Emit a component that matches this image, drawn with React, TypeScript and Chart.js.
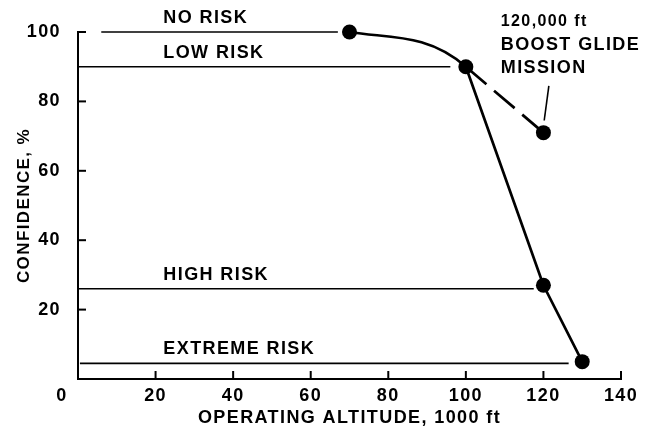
import React, { useEffect, useRef } from 'react';
import { Chart, registerables } from 'chart.js';

Chart.register(...registerables);

// ---- data ----
const altitude = [70, 100, 120, 130];
const confidence = [100, 90, 27, 5];

const boostGlideAltitude = [100, 120];
const boostGlideConfidence = [90, 71];

const leaderAltitude = [121.4, 120.2];
const leaderConfidence = [84.5, 74.5];

const riskNames = ['NO RISK', 'LOW RISK', 'HIGH RISK', 'EXTREME RISK'];
const riskLevels = [100, 90, 26, 4.5];
const riskStart = [6, 0, 0, 0.5];
const riskEnd = [67, 96, 117.5, 126.5];

const xTickValues = [0, 20, 40, 60, 80, 100, 120, 140];
const yTickValues = [20, 40, 60, 80, 100];

const annotationLines = ['120,000 ft', 'BOOST GLIDE', 'MISSION'];

const xTitle = 'OPERATING ALTITUDE, 1000 ft';
const yTitle = 'CONFIDENCE, %';

// ---- styles / layout ----
const FONT = '"Liberation Sans", Arial, Helvetica, sans-serif';
const INK = '#000';
const TICK_LEN = 8;
const RISK_LABEL_X = 22;
const RISK_LABEL_OFFSET = 14;
const ANNOT_X = 109;
const ANNOT_TOP_Y = 102.9;
const ANNOT_LINE_GAP = 23;
const CURVED_SEGMENTS = 1; // the upper (70-100) part of the curve is smooth

export default function App() {
  const ref = useRef<HTMLCanvasElement>(null);

  useEffect(() => {
    document.body.style.margin = '0';
    const canvas = ref.current;
    if (!canvas) return;

    const overlay = {
      id: 'overlay',
      beforeDraw(chart: any) {
        chart.ctx.letterSpacing = '1.4px';
      },
      afterDraw(chart: any) {
        const c = chart.ctx as CanvasRenderingContext2D;
        const xs = chart.scales.x;
        const ys = chart.scales.y;
        const x0 = xs.getPixelForValue(0);
        const y0 = ys.getPixelForValue(0);
        c.save();
        // inward tick marks
        c.strokeStyle = '#000';
        c.lineWidth = 2;
        xTickValues.forEach((v) => {
          if (v === 0) return;
          const px = xs.getPixelForValue(v);
          c.beginPath();
          c.moveTo(px, y0);
          c.lineTo(px, y0 - TICK_LEN);
          c.stroke();
        });
        yTickValues.forEach((v) => {
          const py = ys.getPixelForValue(v);
          c.beginPath();
          c.moveTo(x0, py);
          c.lineTo(x0 + TICK_LEN, py);
          c.stroke();
        });
        // risk labels
        c.fillStyle = INK;
        (c as any).letterSpacing = '1.4px';
        c.font = `bold 18px ${FONT}`;
        c.textAlign = 'left';
        c.textBaseline = 'middle';
        riskNames.forEach((name, i) => {
          c.fillText(
            name,
            xs.getPixelForValue(RISK_LABEL_X),
            ys.getPixelForValue(riskLevels[i]) - RISK_LABEL_OFFSET
          );
        });
        // annotation
        const ax = xs.getPixelForValue(ANNOT_X);
        const ay = ys.getPixelForValue(ANNOT_TOP_Y);
        annotationLines.forEach((t, i) => {
          c.font = i === 0 ? `bold 16px ${FONT}` : `bold 18px ${FONT}`;
          c.fillText(t, ax, ay + i * ANNOT_LINE_GAP);
        });
        // origin label
        c.font = `bold 18px ${FONT}`;
        c.textAlign = 'center';
        c.fillText('0', x0 - 16, y0 + 17);
        c.restore();
      },
    };

    const riskDatasets = riskNames.map((name, i) => ({
      label: name,
      data: [
        { x: riskStart[i], y: riskLevels[i] },
        { x: riskEnd[i], y: riskLevels[i] },
      ],
      borderColor: '#000',
      borderWidth: 1.6,
      pointRadius: 0,
      tension: 0,
    }));

    const curvePoints = altitude.map((x, i) => ({ x, y: confidence[i] }));

    const chart = new Chart(canvas, {
      type: 'line',
      data: {
        datasets: [
          ...riskDatasets,
          {
            label: 'Confidence (lower branch)',
            data: curvePoints.slice(CURVED_SEGMENTS),
            borderColor: '#000',
            borderWidth: 2.7,
            tension: 0,
            pointRadius: 0,
          },
          {
            label: 'Confidence',
            data: curvePoints,
            borderColor: '#000',
            borderWidth: 2.7,
            cubicInterpolationMode: 'monotone',
            segment: {
              borderColor: (ctx: any) =>
                ctx.p0DataIndex >= CURVED_SEGMENTS ? 'rgba(0,0,0,0)' : undefined,
            },
            pointRadius: 7.5,
            pointBackgroundColor: '#000',
            pointBorderColor: '#000',
            pointBorderWidth: 0,
          },
          {
            label: 'Boost glide',
            data: boostGlideAltitude.map((x, i) => ({ x, y: boostGlideConfidence[i] })),
            borderColor: '#000',
            borderWidth: 2.7,
            borderDash: [27, 10],
            tension: 0,
            pointRadius: [0, 7.5],
            pointBackgroundColor: '#000',
            pointBorderWidth: 0,
          },
          {
            label: 'Leader',
            data: leaderAltitude.map((x, i) => ({ x, y: leaderConfidence[i] })),
            borderColor: '#000',
            borderWidth: 1.6,
            pointRadius: 0,
            tension: 0,
          },
        ] as any,
      },
      options: {
        animation: false,
        responsive: true,
        maintainAspectRatio: false,
        clip: false as any,
        layout: { padding: { left: 0, top: 32, right: 25, bottom: 0 } },
        plugins: {
          legend: { display: false },
          tooltip: { enabled: false },
        },
        scales: {
          x: {
            type: 'linear',
            min: 0,
            max: 140,
            afterFit: (s: any) => {
              s.height = 51;
            },
            ticks: {
              stepSize: 20,
              autoSkip: false,
              maxRotation: 0,
              padding: -2,
              color: INK,
              font: { family: FONT, size: 18, weight: 'bold' },
              callback: (v: any) => (v === 0 ? '' : String(v)),
            },
            grid: { display: false },
            border: { display: true, color: '#000', width: 2 },
            title: {
              display: true,
              text: xTitle,
              color: INK,
              font: { family: FONT, size: 18, weight: 'bold' },
              padding: { top: 0, bottom: 1 },
            },
          },
          y: {
            type: 'linear',
            min: 0,
            max: 100,
            afterFit: (s: any) => {
              s.width = 78;
            },
            ticks: {
              stepSize: 20,
              padding: 9,
              color: INK,
              font: { family: FONT, size: 18, weight: 'bold' },
              callback: (v: any) => (v === 0 ? '' : String(v)),
            },
            grid: { display: false },
            border: { display: true, color: '#000', width: 2 },
            title: {
              display: true,
              text: yTitle,
              color: INK,
              font: { family: FONT, size: 17, weight: 'bold' },
              padding: { top: 14, bottom: 0 },
            },
          },
        },
      } as any,
      plugins: [overlay],
    });

    return () => chart.destroy();
  }, []);

  return (
    <div style={{ width: 646, height: 430, position: 'relative' }}>
      <canvas ref={ref} />
    </div>
  );
}
